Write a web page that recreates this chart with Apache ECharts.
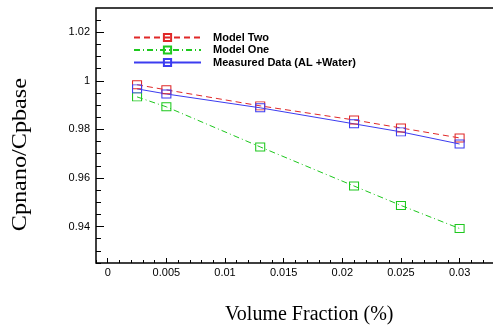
<!DOCTYPE html>
<html>
<head>
<meta charset="utf-8">
<script src="https://cdn.jsdelivr.net/npm/echarts@6/dist/echarts.min.js"></script>
<style>
  html, body { margin: 0; padding: 0; background: #fff; }
  #chart { width: 493px; height: 329px; }
</style>
</head>
<body>
<div id="chart"></div>
<script>
// volume fraction values
const fractions = [0.0025, 0.005, 0.013, 0.021, 0.025, 0.03]
const modelTwo = [0.9984, 0.9963, 0.9897, 0.9839, 0.9806, 0.9765]
const modelOne = [0.9934, 0.9893, 0.9728, 0.9567, 0.9487, 0.9392]
const measured = [0.9967, 0.9946, 0.9889, 0.9823, 0.9790, 0.9740]
// ticks
const xMajor = [0, 0.005, 0.01, 0.015, 0.02, 0.025, 0.03]
const xMinor = [-0.001, 0.001, 0.002, 0.003, 0.004, 0.006, 0.007, 0.008, 0.009, 0.011, 0.012, 0.013, 0.014,
  0.016, 0.017, 0.018, 0.019, 0.021, 0.022, 0.023, 0.024, 0.026, 0.027, 0.028, 0.029, 0.031, 0.032, 0.033]
const yMajor = [0.94, 0.96, 0.98, 1, 1.02]
const yMinor = [0.925, 0.93, 0.935, 0.945, 0.95, 0.955, 0.965, 0.97, 0.975, 0.985, 0.99, 0.995, 1.005, 1.01, 1.015, 1.025]

const chart = echarts.init(document.getElementById('chart'))

const pair = (xs, ys) => xs.map((x, i) => [x, ys[i]])
const labelFont = { fontFamily: 'Liberation Sans', fontSize: 11, color: '#000' }

const xBase = {
  type: 'value', min: -0.001, max: 0.0337, offset: 0,
  axisLine: { show: false, onZero: false },
  splitLine: { show: false }
}
const yBase = {
  type: 'value', min: 0.925, max: 1.03, offset: 0,
  axisLine: { show: false, onZero: false },
  splitLine: { show: false }
}

chart.setOption({
  animation: false,
  backgroundColor: '#fff',
  grid: {
    left: 96, top: 8, right: -10, bottom: 66,
    outerBoundsMode: 'none',
    show: true, borderColor: '#000', borderWidth: 1.5
  },
  legend: {
    orient: 'vertical',
    left: 133, top: 32, padding: 0,
    itemWidth: 67, itemHeight: 9, itemGap: 1.5,
    textStyle: { fontFamily: 'Liberation Sans', fontWeight: 'bold', fontSize: 11, lineHeight: 11, color: '#000', padding: [0, 0, 0, 7] },
    data: ['Model Two', 'Model One', 'Measured Data (AL +Water)']
  },
  xAxis: [
    Object.assign({}, xBase, {
      axisTick: { inside: true, length: 5, customValues: xMajor, lineStyle: { color: '#000' } },
      axisLabel: Object.assign({ customValues: xMajor, margin: 4 }, labelFont)
    }),
    Object.assign({}, xBase, {
      position: 'bottom',
      axisTick: { inside: true, length: 3, customValues: xMinor, lineStyle: { color: '#000' } },
      axisLabel: { show: false }
    })
  ],
  yAxis: [
    Object.assign({}, yBase, {
      axisTick: { inside: true, length: 8, customValues: yMajor, lineStyle: { color: '#000' } },
      axisLabel: Object.assign({ customValues: yMajor, margin: 6 }, labelFont)
    }),
    Object.assign({}, yBase, {
      position: 'left',
      axisTick: { inside: true, length: 5, customValues: yMinor, lineStyle: { color: '#000' } },
      axisLabel: { show: false }
    })
  ],
  graphic: [
    {
      type: 'text', left: 9, top: 78, rotation: Math.PI / 2, scaleX: 1.1,
      style: { text: 'Cpnano/Cpbase', fontFamily: 'Liberation Serif', fontSize: 22, fill: '#000' }
    },
    {
      type: 'text', left: 225, top: 305,
      style: { text: 'Volume Fraction (%)', fontFamily: 'Liberation Serif', fontSize: 20, fill: '#000' }
    }
  ],
  series: [
    {
      name: 'Model Two', type: 'line', data: pair(fractions, modelTwo),
      symbol: 'rect', symbolSize: [9, 8],
      itemStyle: { color: 'rgba(0,0,0,0)', borderColor: '#e02828', borderWidth: 1 },
      lineStyle: { color: '#e02828', width: 1, type: [6, 4] }
    },
    {
      name: 'Model One', type: 'line', data: pair(fractions, modelOne),
      symbol: 'rect', symbolSize: [9, 8],
      itemStyle: { color: 'rgba(0,0,0,0)', borderColor: '#1ec81e', borderWidth: 1 },
      lineStyle: { color: '#1ec81e', width: 1, type: [6, 3, 1, 3] }
    },
    {
      name: 'Measured Data (AL +Water)', type: 'line', data: pair(fractions, measured),
      symbol: 'rect', symbolSize: [9, 8],
      itemStyle: { color: 'rgba(0,0,0,0)', borderColor: '#3c3cf0', borderWidth: 1 },
      lineStyle: { color: '#3c3cf0', width: 1 }
    }
  ]
})
</script>
</body>
</html>
